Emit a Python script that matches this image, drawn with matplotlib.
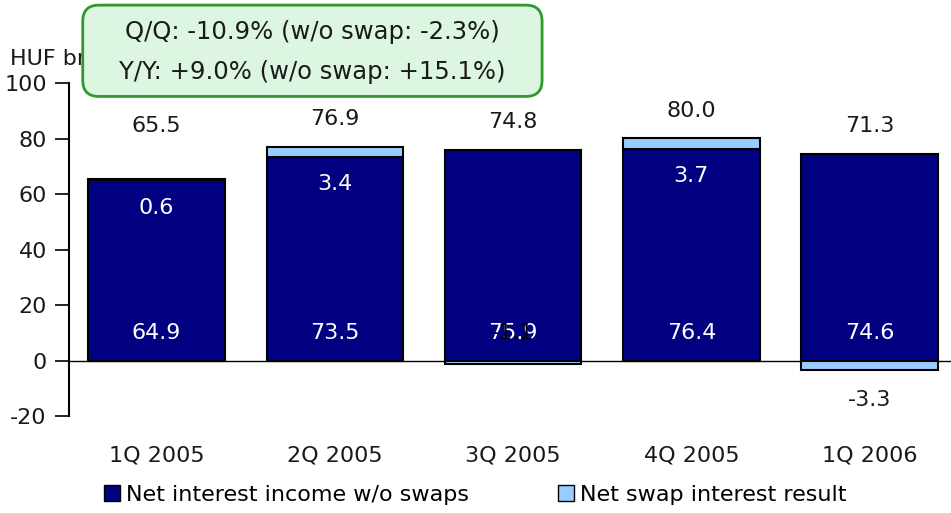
import matplotlib.pyplot as plt
from matplotlib.patches import FancyBboxPatch, Rectangle

# quarterly net interest income, HUF bn
quarters = ["1Q 2005", "2Q 2005", "3Q 2005", "4Q 2005", "1Q 2006"]
nii_wo_swaps = [64.9, 73.5, 75.9, 76.4, 74.6]
swap_result = [0.6, 3.4, -1.1, 3.7, -3.3]
totals = [65.5, 76.9, 74.8, 80.0, 71.3]

navy = "#000080"
light_blue = "#99CCFF"
txt = "#1a1a1a"
plt.rcParams["font.family"] = ["DejaVu Sans"]
plt.rcParams["axes.unicode_minus"] = False

fig = plt.figure(figsize=(9.51, 5.13), dpi=100)
ax = fig.add_axes([0.0726, 0.189, 0.93, 0.649])

x = list(range(len(quarters)))
width = 0.765

ax.bar(x, nii_wo_swaps, width, color=navy, edgecolor="black", linewidth=1.5,
       label="Net interest income w/o swaps", zorder=2)
# positive swap results stack on top, negative ones hang below zero
swap_bottom = [b if s > 0 else 0 for b, s in zip(nii_wo_swaps, swap_result)]
ax.bar(x, swap_result, width, bottom=swap_bottom, color=light_blue,
       edgecolor="black", linewidth=1.5, label="Net swap interest result", zorder=2)

ax.axhline(0, color="black", linewidth=1, zorder=1)

fs = 16
for i in x:
    base = nii_wo_swaps[i]
    swap = swap_result[i]
    top = max(base, base + swap)
    # total above the bar
    ax.text(i, max(top + 10, 84.5), f"{totals[i]:.1f}", ha="center", va="center",
            fontsize=fs, color=txt)
    # base value near the bottom of the bar
    ax.text(i, 10, f"{base:.1f}", ha="center", va="center", fontsize=fs, color="white")
    if swap > 0:
        ax.text(i, base - 10, f"{swap:.1f}", ha="center", va="center",
                fontsize=fs, color="white")
    elif swap < -2:
        ax.text(i, swap - 11, f"{swap:.1f}", ha="center", va="center",
                fontsize=fs, color=txt)
    else:
        ax.text(i, 10, f"{swap:.1f}", ha="center", va="center",
                fontsize=fs, color="black")

ax.set_xlim(-0.49, 4.47)
ax.set_ylim(-20, 100)
ax.set_yticks(range(-20, 101, 20))
ax.set_xticks(x)
ax.set_xticklabels(quarters)
ax.tick_params(axis="y", direction="out", length=10, width=1.2, labelsize=fs, pad=6,
               labelcolor=txt)
ax.tick_params(axis="x", length=0, labelsize=fs, pad=21, labelcolor=txt)
for side in ["top", "right", "bottom"]:
    ax.spines[side].set_visible(False)
ax.spines["left"].set_linewidth(1.5)

fig.text(0.011, 0.885, "HUF bn", fontsize=fs, ha="left", va="center", color=txt)

# growth summary box
box = FancyBboxPatch((0.087, 0.812), 0.483, 0.178, transform=fig.transFigure,
                     boxstyle="round,pad=0,rounding_size=0.017",
                     facecolor="#DDF6E2", edgecolor="#2E9A2E", linewidth=2, zorder=5,
                     mutation_aspect=1.85)
fig.patches.append(box)
fig.text(0.328, 0.937, "Q/Q: -10.9% (w/o swap: -2.3%)", fontsize=17.5,
         ha="center", va="center", color=txt, zorder=6)
fig.text(0.328, 0.859, "Y/Y: +9.0% (w/o swap: +15.1%)", fontsize=17.5,
         ha="center", va="center", color=txt, zorder=6)

handles = [Rectangle((0, 0), 1, 1, facecolor=navy, edgecolor="black"),
           Rectangle((0, 0), 1, 1, facecolor=light_blue, edgecolor="black")]
fig.legend(handles, ["Net interest income w/o swaps", "Net swap interest result"],
           loc="center", bbox_to_anchor=(0.5, 0.035), ncol=2, frameon=False,
           fontsize=fs, handlelength=0.7, handleheight=0.7, handletextpad=0.3,
           columnspacing=4)

fig.savefig("out.png", dpi=100)
